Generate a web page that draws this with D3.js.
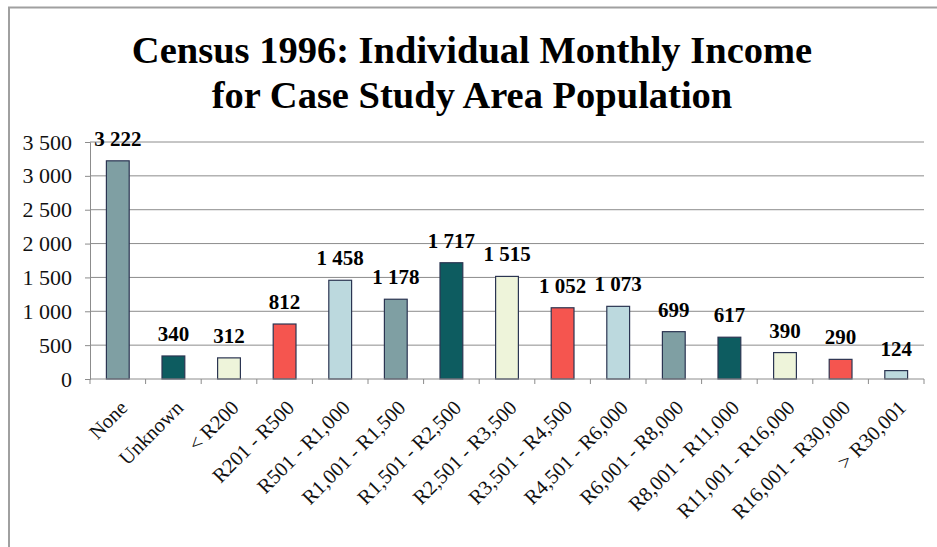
<!DOCTYPE html>
<html>
<head>
<meta charset="utf-8">
<script src="https://cdn.jsdelivr.net/npm/d3@7"></script>
<style>
  body { margin: 0; background: #fff; }
  text { font-family: "Liberation Serif", "Times New Roman", serif; }
</style>
</head>
<body>
<div class="canvas"></div>
<script>
// data
const categories = ['None', 'Unknown', '< R200', 'R201 - R500', 'R501 - R1,000', 'R1,001 - R1,500',
  'R1,501 - R2,500', 'R2,501 - R3,500', 'R3,501 - R4,500', 'R4,501 - R6,000', 'R6,001 - R8,000',
  'R8,001 - R11,000', 'R11,001 - R16,000', 'R16,001 - R30,000', '> R30,001'];
const population = [3222, 340, 312, 812, 1458, 1178, 1717, 1515, 1052, 1073, 699, 617, 390, 290, 124];
const yTicks = [0, 500, 1000, 1500, 2000, 2500, 3000, 3500];
const palette = ['#7f9fa3', '#0d5c60', '#eef4da', '#f5554f', '#bcd9de'];

const data = categories.map((c, i) => ({ name: c, value: population[i], color: palette[i % palette.length] }));

const svg = d3.select('.canvas')
  .append('svg')
  .attr('width', 937)
  .attr('height', 547);

// chart frame (only top and left edges show)
svg.append('path')
  .attr('d', 'M9,547 V7.5 H937')
  .attr('fill', 'none')
  .attr('stroke', '#a0a0a0')
  .attr('stroke-width', 2);

// title
const title = svg.append('text')
  .attr('text-anchor', 'middle')
  .attr('font-size', 38.5)
  .attr('font-weight', 'bold')
  .attr('fill', '#000');
title.append('tspan').attr('x', 472).attr('y', 63).text('Census 1996: Individual Monthly Income');
title.append('tspan').attr('x', 472).attr('y', 108).text('for Case Study Area Population');

// scales
const y = d3.scaleLinear()
  .domain([0, 3500])
  .range([379, 142]);

const x = d3.scaleBand()
  .domain(categories)
  .range([90, 924]);

const fmt = v => d3.format(',')(v).replace(/,/g, ' ');

// gridlines
svg.append('g')
  .selectAll('line')
  .data(yTicks.slice(1))
  .join('line')
  .attr('x1', 90).attr('x2', 924)
  .attr('y1', d => y(d)).attr('y2', d => y(d))
  .attr('stroke', '#8c8c8c')
  .attr('stroke-width', 1);

// y axis
const yAxisGroup = svg.append('g').attr('transform', 'translate(90,0)');
yAxisGroup.call(d3.axisLeft(y).tickValues(yTicks).tickSize(5).tickPadding(13).tickFormat(fmt));
yAxisGroup.select('.domain').attr('stroke', '#8c8c8c');
yAxisGroup.selectAll('line').attr('stroke', '#8c8c8c');
yAxisGroup.selectAll('text')
  .attr('font-size', 22)
  .attr('fill', '#111');

// bars
const barW = x.bandwidth() * 0.41;
svg.append('g')
  .selectAll('rect')
  .data(data)
  .join('rect')
  .attr('x', d => x(d.name) + (x.bandwidth() - barW) / 2)
  .attr('y', d => y(d.value))
  .attr('width', barW)
  .attr('height', d => y(0) - y(d.value))
  .attr('fill', d => d.color)
  .attr('stroke', '#2b3552')
  .attr('stroke-width', 1.2);

// x axis line and ticks at band edges
const xAxisGroup = svg.append('g');
xAxisGroup.append('line')
  .attr('x1', 90).attr('x2', 924)
  .attr('y1', y(0)).attr('y2', y(0))
  .attr('stroke', '#8c8c8c');
xAxisGroup.selectAll('line.tick')
  .data(categories.map(c => x(c)).concat([x.range()[1]]))
  .join('line')
  .attr('class', 'tick')
  .attr('x1', d => d).attr('x2', d => d)
  .attr('y1', y(0)).attr('y2', y(0) + 5)
  .attr('stroke', '#8c8c8c');

// category labels
svg.append('g')
  .selectAll('text')
  .data(data)
  .join('text')
  .attr('transform', d => `translate(${x(d.name) + x.bandwidth() / 2 + 11}, ${y(0) + 30}) rotate(-45)`)
  .attr('text-anchor', 'end')
  .attr('font-size', 20.5)
  .attr('fill', '#111')
  .text(d => d.name);

// value labels
svg.append('g')
  .selectAll('text')
  .data(data)
  .join('text')
  .attr('x', d => x(d.name) + x.bandwidth() / 2)
  .attr('y', d => y(d.value) - 15)
  .attr('text-anchor', 'middle')
  .attr('font-size', 21)
  .attr('font-weight', 'bold')
  .attr('fill', '#000')
  .text(d => fmt(d.value));
</script>
</body>
</html>
